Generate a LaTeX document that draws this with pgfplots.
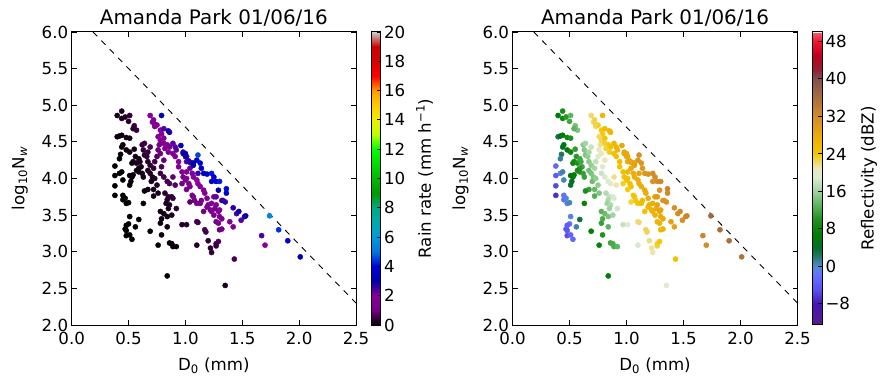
\documentclass[border=0pt]{standalone}
\usepackage{fontspec}
\setmainfont{DejaVu Sans}
\usepackage{pgfplots}
\pgfplotsset{compat=1.18}
\usepackage{pgfplotstable}

\pgfplotstableread{
x y R Z
0.44 4.92 0.24 9.2
0.40 4.86 0.13 5.7
0.44 4.82 0.19 8.2
0.47 4.84 0.28 10.5
0.51 4.86 0.42 13.1
0.50 4.78 0.32 11.7
0.55 4.72 0.44 14.1
0.57 4.66 0.45 14.5
0.54 4.68 0.36 13.1
0.40 4.57 0.07 2.8
0.42 4.58 0.09 4.4
0.44 4.59 0.11 5.9
0.48 4.56 0.16 8.3
0.51 4.55 0.20 10.0
0.44 4.43 0.08 4.3
0.45 4.46 0.09 5.3
0.43 4.33 0.06 2.6
0.42 4.27 0.04 1.3
0.48 4.39 0.11 6.6
0.51 4.36 0.13 8.1
0.55 4.40 0.21 10.9
0.38 4.17 0.02 -2.7
0.38 4.04 0.02 -4.0
0.42 4.07 0.03 -0.7
0.44 4.09 0.04 0.9
0.45 3.98 0.03 0.5
0.38 3.90 0.01 -5.4
0.38 3.77 0.01 -6.7
0.45 3.77 0.02 -1.6
0.45 3.71 0.02 -2.2
0.47 3.73 0.02 -0.6
0.48 3.66 0.02 -0.7
0.50 3.67 0.02 0.6
0.51 3.91 0.05 3.6
0.52 3.96 0.06 4.7
0.51 4.04 0.06 4.9
0.53 4.02 0.07 5.9
0.54 4.05 0.09 6.8
0.53 4.21 0.11 7.8
0.54 4.23 0.13 8.6
0.57 4.21 0.16 10.0
0.56 4.30 0.18 10.4
0.59 4.27 0.21 11.7
0.60 4.23 0.21 11.8
0.61 4.16 0.19 11.6
0.59 4.14 0.16 10.4
0.57 4.11 0.13 9.0
0.59 4.09 0.14 9.9
0.62 4.07 0.17 11.2
0.63 4.02 0.16 11.2
0.62 4.46 0.42 15.1
0.64 4.48 0.50 16.2
0.63 4.39 0.38 14.9
0.64 4.32 0.35 14.6
0.66 4.30 0.39 15.4
0.67 4.36 0.48 16.4
0.69 4.43 0.65 18.0
0.67 4.23 0.35 15.1
0.69 4.18 0.36 15.5
0.67 4.11 0.27 13.9
0.69 4.07 0.28 14.4
0.71 4.02 0.29 14.8
0.70 3.96 0.23 13.8
0.73 4.00 0.31 15.4
0.72 4.14 0.40 16.4
0.73 4.23 0.52 17.7
0.75 4.30 0.71 19.3
0.76 4.39 0.91 20.6
0.77 4.46 1.15 21.7
0.78 4.34 0.93 20.8
0.81 4.25 0.89 21.1
0.79 4.16 0.65 19.4
0.78 4.07 0.50 18.1
0.81 4.02 0.52 18.8
0.84 3.96 0.55 19.3
0.86 3.93 0.56 19.7
0.91 3.91 0.71 21.2
0.89 4.02 0.81 21.7
0.75 3.91 0.29 15.4
0.72 3.85 0.20 13.5
0.67 3.85 0.15 11.3
0.64 3.83 0.11 9.7
0.63 3.66 0.07 7.6
0.72 3.76 0.17 12.6
0.76 3.80 0.23 14.7
0.82 3.80 0.34 17.0
0.85 3.75 0.35 17.5
0.84 3.71 0.31 16.8
0.88 3.75 0.42 18.6
0.92 3.59 0.35 18.4
0.89 3.73 0.42 18.8
0.83 3.66 0.26 15.9
0.86 3.64 0.29 16.8
0.85 3.59 0.25 15.9
0.78 3.55 0.15 12.9
0.81 3.52 0.17 13.8
0.79 3.45 0.13 12.3
0.78 3.39 0.10 11.3
0.84 3.48 0.18 14.5
0.88 3.50 0.23 16.1
0.51 3.48 0.02 -0.7
0.59 3.44 0.03 3.4
0.56 3.34 0.02 0.8
0.47 3.31 0.01 -4.8
0.48 3.29 0.01 -4.4
0.48 3.22 0.01 -5.1
0.51 3.23 0.01 -3.2
0.53 3.17 0.01 -2.6
0.50 3.38 0.01 -2.3
0.48 3.36 0.01 -3.7
0.69 3.28 0.05 6.5
0.76 3.09 0.05 7.6
0.79 3.23 0.08 10.1
0.86 3.12 0.09 11.6
0.88 3.11 0.10 12.2
0.89 3.07 0.09 12.2
0.92 3.07 0.11 13.2
0.84 3.34 0.13 13.1
0.97 3.37 0.28 17.8
1.01 3.37 0.33 19.0
0.84 2.67 0.03 6.4
1.10 3.09 0.26 18.8
1.10 3.41 0.54 22.0
1.11 3.40 0.55 22.2
1.17 3.30 0.56 22.8
1.18 3.27 0.55 22.7
1.20 3.15 0.45 22.0
1.22 3.05 0.38 21.5
1.23 2.99 0.35 21.2
1.27 3.08 0.49 23.1
1.27 3.11 0.52 23.4
1.29 3.14 0.62 24.1
1.43 2.90 0.58 24.9
1.35 2.54 0.19 19.5
0.69 4.86 1.74 22.3
0.71 4.77 1.62 22.3
0.73 4.71 1.58 22.5
0.75 4.73 1.90 23.6
0.72 4.80 1.80 23.0
0.73 4.74 1.70 22.8
0.78 4.66 1.95 24.0
0.79 4.61 1.80 23.9
0.76 4.57 1.38 22.4
0.78 4.52 1.41 22.6
0.81 4.55 1.78 24.1
0.84 4.46 1.74 24.3
0.86 4.43 1.78 24.7
0.85 4.36 1.45 23.6
0.82 4.41 1.38 23.1
0.81 4.48 1.51 23.4
0.89 4.34 1.70 24.9
0.92 4.39 2.24 26.4
0.91 4.30 1.74 25.1
0.94 4.23 1.70 25.4
0.94 4.16 1.45 24.7
0.97 4.09 1.45 25.0
0.98 4.02 1.29 24.6
1.00 3.98 1.29 24.8
1.01 4.00 1.41 25.3
1.03 3.93 1.32 25.2
0.97 3.93 1.00 23.4
1.04 3.89 1.26 25.1
1.01 3.85 1.00 23.8
1.06 3.77 1.05 24.5
1.07 3.75 1.05 24.6
1.08 3.70 0.98 24.3
1.04 3.68 0.78 23.0
1.10 3.66 0.95 24.5
1.13 3.66 1.10 25.3
1.14 3.70 1.26 26.0
1.16 3.55 0.95 25.0
1.19 3.61 1.23 26.4
1.20 3.64 1.38 26.9
1.22 3.57 1.26 26.7
1.23 3.55 1.26 26.8
1.25 3.50 1.20 26.8
1.26 3.59 1.55 27.9
1.27 3.64 1.78 28.7
1.29 3.55 1.58 28.2
1.30 3.57 1.70 28.7
1.30 3.48 1.38 27.8
1.27 3.41 1.05 26.4
1.29 3.39 1.10 26.6
1.32 3.45 1.38 27.9
1.23 3.66 1.62 27.9
1.25 3.75 2.14 29.3
1.27 3.75 2.29 29.8
1.19 3.73 1.62 27.6
1.17 3.80 1.78 27.8
1.16 3.84 1.86 27.9
1.13 3.89 1.86 27.6
1.11 3.93 1.86 27.5
1.10 3.98 2.00 27.7
1.07 4.02 1.95 27.3
1.06 4.07 2.09 27.5
1.01 4.09 1.74 26.2
1.04 4.14 2.24 27.6
1.06 4.21 2.88 28.9
1.07 4.18 2.82 28.9
1.10 4.25 3.70 30.4
1.13 4.21 3.90 30.8
1.11 4.32 4.60 31.4
1.01 4.23 2.40 27.6
1.00 4.30 2.69 28.0
0.98 4.34 2.69 27.8
1.30 3.30 0.91 26.0
1.32 3.31 1.00 26.5
1.39 3.41 1.62 29.1
1.42 3.34 1.51 29.0
1.49 3.43 2.34 31.4
1.45 3.52 2.50 31.5
1.52 3.48 2.88 32.5
1.67 3.22 2.45 32.8
1.70 3.09 2.00 32.0
0.79 4.86 3.24 26.4
0.81 4.68 2.40 25.4
0.85 4.65 2.82 26.5
0.86 4.63 2.82 26.7
0.89 4.48 2.34 26.3
0.91 4.43 2.34 26.4
0.96 4.45 3.16 28.3
0.98 4.36 2.82 28.0
1.00 4.34 2.95 28.4
1.01 4.30 2.82 28.3
1.03 4.24 2.69 28.3
1.04 4.22 2.69 28.4
1.07 4.21 3.00 29.2
1.14 4.14 3.47 30.4
1.16 4.07 3.16 30.2
1.19 4.06 3.47 30.9
1.11 4.07 2.57 28.9
1.23 4.07 4.20 32.0
1.25 4.02 4.00 32.0
1.23 3.96 3.24 30.9
1.27 3.96 3.70 31.9
1.30 3.96 4.20 32.6
1.36 3.86 4.10 32.9
1.36 3.80 3.55 32.3
1.29 3.84 3.10 31.1
1.32 3.70 2.45 30.4
1.33 3.70 2.57 30.7
1.35 3.68 2.63 30.9
1.42 3.60 2.75 31.6
1.47 3.55 2.88 32.2
1.53 3.49 3.00 32.8
1.74 3.49 5.50 36.8
1.82 3.30 4.40 36.2
1.90 3.15 3.80 36.0
2.01 2.93 3.00 35.5
}\dsd

\pgfplotsset{
  colormap={nipy}{rgb255(0)=(0,0,0) rgb255(1)=(119,0,136) rgb255(2)=(136,0,153)
    rgb255(3)=(0,0,170) rgb255(4)=(0,0,221) rgb255(5)=(0,119,221) rgb255(6)=(0,153,221)
    rgb255(7)=(0,170,170) rgb255(8)=(0,170,136) rgb255(9)=(0,153,0) rgb255(10)=(0,187,0)
    rgb255(11)=(0,221,0) rgb255(12)=(0,255,0) rgb255(13)=(187,255,0) rgb255(14)=(238,238,0)
    rgb255(15)=(255,204,0) rgb255(16)=(255,153,0) rgb255(17)=(255,0,0) rgb255(18)=(221,0,0)
    rgb255(19)=(204,0,0) rgb255(20)=(204,204,204)},
  colormap={refl}{rgb255(0)=(90,30,140) rgb255(4.5)=(70,20,180) rgb255(7.5)=(90,80,240)
    rgb255(10.5)=(100,110,255) rgb255(12.5)=(80,140,210) rgb255(14.5)=(40,120,110)
    rgb255(16.5)=(0,110,40) rgb255(19.5)=(0,128,0) rgb255(22.5)=(30,145,30)
    rgb255(25.5)=(90,180,90) rgb255(28.5)=(160,210,160) rgb255(31.5)=(220,235,210)
    rgb255(33.5)=(235,230,190) rgb255(36.5)=(245,200,0) rgb255(40.5)=(235,170,10)
    rgb255(44.5)=(210,140,40) rgb255(48.5)=(170,110,60) rgb255(52.5)=(130,80,80)
    rgb255(54.5)=(150,30,50) rgb255(57.5)=(190,0,30) rgb255(60.5)=(240,20,50)
    rgb255(62.5)=(255,90,110)},
  myax/.style={
    scale only axis, height=293bp,
    xmin=0, xmax=2.5, ymin=2, ymax=6,
    xtick={0,0.5,...,2.5}, ytick={2,2.5,...,6},
    tick align=inside, major tick length=5bp,
    every tick/.style={black, line width=0.8bp},
    axis line style={line width=1bp},
    xticklabel style={yshift=-4bp, /pgf/number format/.cd, fixed, fixed zerofill, precision=1},
    yticklabel style={/pgf/number format/.cd, fixed, fixed zerofill, precision=1},
    /pgf/number format/assume math mode=true,
    tick label style={font=\fontsize{16.7}{18}\selectfont},
    label style={font=\fontsize{16.7}{18}\selectfont},
    title style={font=\fontsize{20}{22}\selectfont, yshift=-4bp},
    xlabel={D\textsubscript{0} (mm)},
    xlabel style={yshift=-6bp},
    ylabel={log\textsubscript{10}N\textsubscript{\itshape w}},
    ylabel style={yshift=7bp},
    title={Amanda Park 01/06/16},
  },
  mysc/.style={scatter, only marks, mark=*, mark size=2.6bp, scatter src=explicit,
    scatter/use mapped color={draw=mapped color, fill=mapped color}},
  mycb/.style={
    at={(parent axis.north east)}, anchor=north west, width=9.5bp,
    ytick pos=right, yticklabel pos=right, tick align=inside, major tick length=4bp,
    every tick/.style={black, line width=0.8bp},
    axis line style={line width=1bp},
    yticklabel style={font=\fontsize{16.7}{18}\selectfont, /pgf/number format/assume math mode=true},
    ylabel style={font=\fontsize{16.7}{18}\selectfont},
  }
}

\begin{document}
\begin{tikzpicture}
\path[use as bounding box] (0,0) rectangle (886bp,386bp);
\begin{axis}[myax, at={(71.7bp,61bp)}, anchor=south west, width=284.3bp,
  colormap name=nipy, point meta min=0, point meta max=20,
  colorbar, colorbar style={mycb, xshift=6.5bp, ytick={0,2,...,20},
    ylabel={Rain rate (mm h\textsuperscript{−1})}, ylabel style={yshift=-4bp}}]
\addplot[mysc] table[x=x, y=y, meta=R] {\dsd};
\addplot[black, line width=0.9bp, dash pattern=on 6bp off 6bp] coordinates {(0.1875,6) (2.5,2.3)};
\end{axis}
\begin{axis}[myax, at={(512.5bp,61bp)}, anchor=south west, width=285bp,
  colormap name=refl, point meta min=-12.5, point meta max=50,
  colorbar, colorbar style={mycb, xshift=6.5bp, ytick={-8,0,8,16,24,32,40,48},
    yticklabels={−8,0,8,16,24,32,40,48},
    ylabel={Reflectivity (dBZ)}, ylabel style={yshift=-4bp}}]
\addplot[mysc] table[x=x, y=y, meta=Z] {\dsd};
\addplot[black, line width=0.9bp, dash pattern=on 6bp off 6bp] coordinates {(0.1875,6) (2.5,2.3)};
\end{axis}
\end{tikzpicture}
\end{document}
